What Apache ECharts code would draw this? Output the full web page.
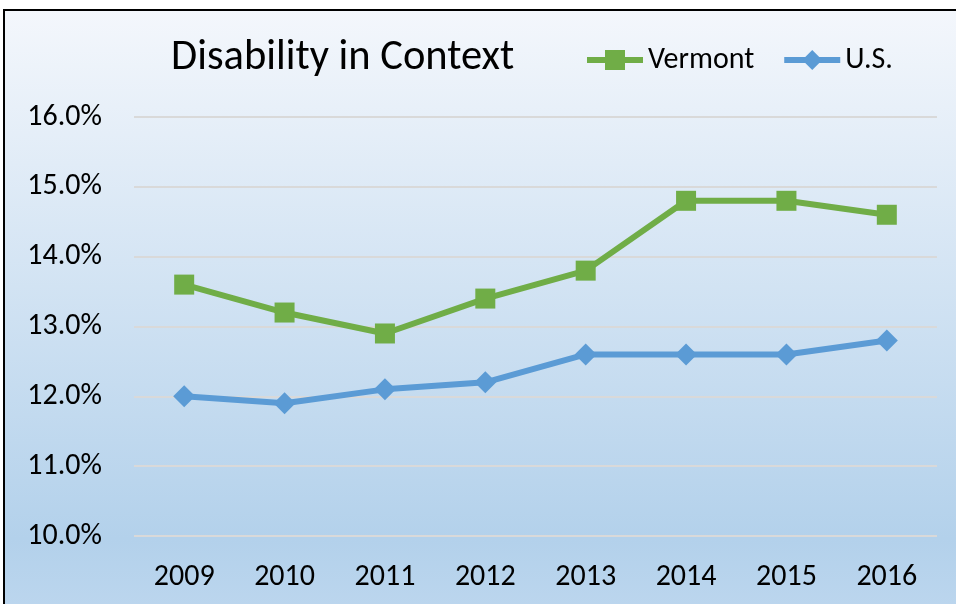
<!DOCTYPE html>
<html><head><meta charset="utf-8">
<script src="https://cdn.jsdelivr.net/npm/echarts@6/dist/echarts.min.js"></script>
<style>html,body{margin:0;padding:0;background:#fff;}#c{width:956px;height:604px;}</style>
</head><body><div id="c"></div>
<script>
const years = ['2009','2010','2011','2012','2013','2014','2015','2016'];
const vermont = [13.6, 13.2, 12.9, 13.4, 13.8, 14.8, 14.8, 14.6];
const us = [12.0, 11.9, 12.1, 12.2, 12.6, 12.6, 12.6, 12.8];
const chart = echarts.init(document.getElementById('c'));
const font = 'Carlito, Lato, "Open Sans", sans-serif';
chart.setOption({
  animation: false,
  graphic: [{
    type: 'rect', z: -10, silent: true,
    shape: { x: 4, y: 10, width: 960, height: 600 },
    style: {
      fill: new echarts.graphic.LinearGradient(0, 0, 0, 1, [
        { offset: 0, color: '#F4F7FC' },
        { offset: 0.88, color: '#B3D1EB' },
        { offset: 1, color: '#BCD6EE' }
      ]),
      stroke: '#000', lineWidth: 2
    }
  }],
  title: {
    text: 'Disability in Context', left: 166, top: 32,
    textStyle: { fontFamily: font, fontSize: 42.5, fontWeight: 'normal', color: '#000' }
  },
  legend: {
    left: 579, top: 40, itemWidth: 56, itemHeight: 25, itemGap: 27,
    textStyle: { fontFamily: font, fontSize: 30, color: '#000' },
    lineStyle: { width: 6 },
    data: ['Vermont', 'U.S.']
  },
  grid: { left: 134, right: 19, top: 117, bottom: 68, containLabel: false },
  xAxis: {
    type: 'category', data: years, boundaryGap: true,
    axisLine: { show: false }, axisTick: { show: false },
    axisLabel: { fontFamily: font, fontSize: 30, color: '#000', margin: 26 }
  },
  yAxis: {
    type: 'value', min: 10, max: 16, interval: 1,
    axisLine: { show: false }, axisTick: { show: false },
    axisLabel: { fontFamily: font, fontSize: 30, color: '#000', margin: 32,
      formatter: v => v.toFixed(1) + '%' },
    splitLine: { lineStyle: { color: '#D9D9D9', width: 2 } }
  },
  series: [
    { name: 'Vermont', type: 'line', data: vermont, symbol: 'rect', symbolSize: 20,
      lineStyle: { color: '#70AD47', width: 6 }, itemStyle: { color: '#70AD47' } },
    { name: 'U.S.', type: 'line', data: us, symbol: 'diamond', symbolSize: 22,
      lineStyle: { color: '#5B9BD5', width: 6 }, itemStyle: { color: '#5B9BD5' } }
  ]
});
</script></body></html>
